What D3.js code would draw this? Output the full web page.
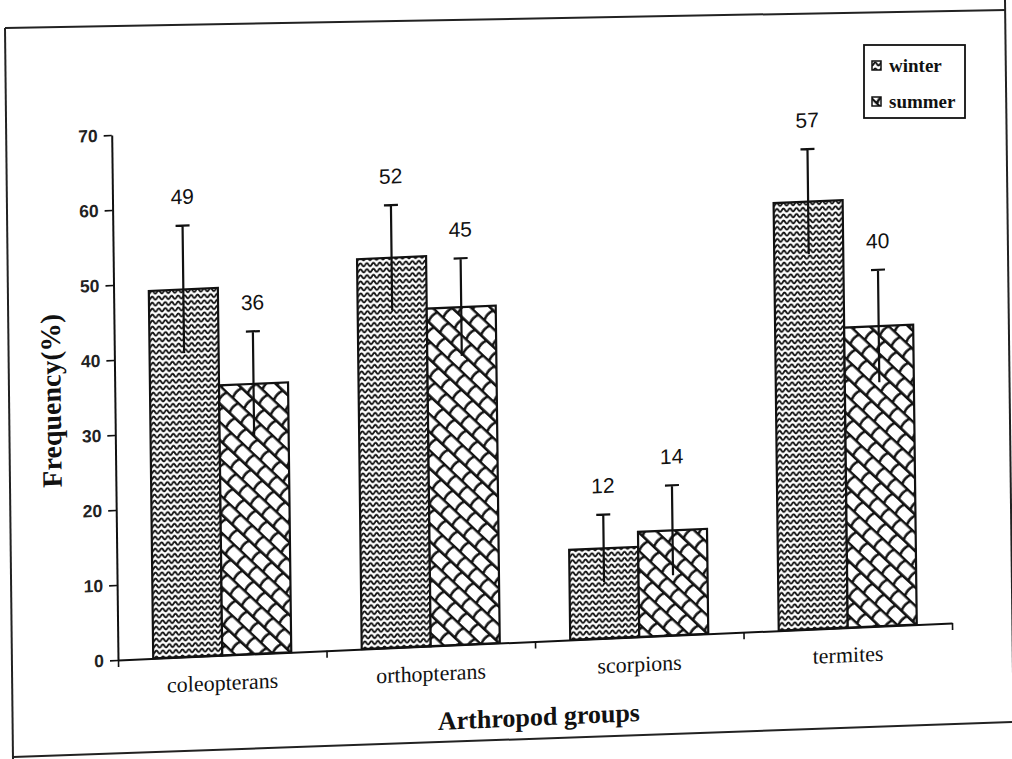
<!DOCTYPE html>
<html>
<head>
<meta charset="utf-8">
<script src="https://cdn.jsdelivr.net/npm/d3@7"></script>
<style>
  html, body { margin: 0; padding: 0; background: #ffffff; }
  svg { display: block; }
</style>
</head>
<body>
<svg id="chart" width="1012" height="759"></svg>
<script>
// ---------- data ----------
const categories = ["coleopterans", "orthopterans", "scorpions", "termites"];
const seriesNames = ["winter", "summer"];
const winterValues = [49, 52, 12, 57];
const summerValues = [36, 45, 14, 40];
const winterErrors = [8.5, 7, 4.5, 7];
const summerErrors = [7, 6.5, 6, 7.5];
const yTicks = [0, 10, 20, 30, 40, 50, 60, 70];
const yTitle = "Frequency(%)";
const xTitle = "Arthropod groups";

// ---------- layout ----------
const svg = d3.select("#chart");
const plotW = 834, plotH = 525;
const ink = "#111";

const rows = categories.map((c, i) => ({
  cat: c,
  vals: [
    { s: "winter", v: winterValues[i], e: winterErrors[i] },
    { s: "summer", v: summerValues[i], e: summerErrors[i] }
  ]
}));

const defs = svg.append("defs");
// winter: wavy lines
const pw = defs.append("pattern").attr("id", "pWinter")
  .attr("patternUnits", "userSpaceOnUse").attr("width", 6.5).attr("height", 6);
pw.append("rect").attr("width", 6.5).attr("height", 6).attr("fill", "#fff");
pw.append("path").attr("d", "M0,4.6 C1.5,4.6 1.75,1.4 3.25,1.4 C4.75,1.4 5,4.6 6.5,4.6")
  .attr("fill", "none").attr("stroke", ink).attr("stroke-width", 1.9);
// summer: shingle
const ps = defs.append("pattern").attr("id", "pSummer")
  .attr("patternUnits", "userSpaceOnUse").attr("width", 32).attr("height", 26)
  .attr("patternTransform", "rotate(45)");
ps.append("rect").attr("width", 32).attr("height", 26).attr("fill", "#fff");
ps.append("path")
  .attr("d", "M0,1 H32 M0,14 H32 " +
    "M0,1 Q-3,7.5 0,14 M16,1 Q13,7.5 16,14 M32,1 Q29,7.5 32,14 " +
    "M8,14 Q5,20.5 8,27 M24,14 Q21,20.5 24,27")
  .attr("fill", "none").attr("stroke", ink).attr("stroke-width", 2.6);

const fills = { winter: "url(#pWinter)", summer: "url(#pSummer)" };

// frame (scanned page border)
const frame = svg.append("g").attr("stroke", "#222").attr("stroke-width", 2).attr("fill", "none");
frame.append("path").attr("d", "M5,28 L1006,10");
frame.append("path").attr("d", "M5,28 L13,759");
frame.append("path").attr("d", "M1005,0 L1014,759");
frame.append("path").attr("d", "M13,757 L1012,722");

// plot group with slight skew to mimic the scan
const g = svg.append("g")
  .attr("transform", "translate(118,660) matrix(1,-0.0444,0.012,1,0,0) translate(0,-525)");

const y = d3.scaleLinear().domain([0, 70]).range([plotH, 0]);
const x0 = d3.scaleBand().domain(categories).range([0, plotW])
  .paddingInner(0.338).paddingOuter(0.169);
const x1 = d3.scaleBand().domain(seriesNames).range([0, x0.bandwidth()]);
const xb = d3.scaleLinear().domain([0, categories.length]).range([0, plotW]);

// bars
const grp = g.selectAll("g.cat").data(rows).join("g")
  .attr("class", "cat")
  .attr("transform", d => `translate(${x0(d.cat)},0)`);

grp.selectAll("rect").data(d => d.vals).join("rect")
  .attr("x", d => x1(d.s))
  .attr("y", d => y(d.v))
  .attr("width", x1.bandwidth())
  .attr("height", d => y(0) - y(d.v))
  .attr("fill", d => fills[d.s])
  .attr("stroke", ink).attr("stroke-width", 2.2);

// error bars
grp.selectAll("path.err").data(d => d.vals).join("path")
  .attr("class", "err")
  .attr("d", d => {
    const cx = x1(d.s) + x1.bandwidth() / 2;
    return `M${cx},${y(d.v - d.e)} V${y(d.v + d.e)} M${cx - 7},${y(d.v + d.e)} H${cx + 7}`;
  })
  .attr("fill", "none").attr("stroke", ink).attr("stroke-width", 2.2);

// value labels
grp.selectAll("text.val").data(d => d.vals).join("text")
  .attr("class", "val")
  .attr("x", d => x1(d.s) + x1.bandwidth() / 2)
  .attr("y", d => y(d.v + d.e) - 29)
  .attr("dy", "0.35em")
  .attr("text-anchor", "middle")
  .attr("font-family", "'Liberation Sans', Arial, sans-serif")
  .attr("font-size", 21)
  .attr("fill", ink)
  .text(d => d.v);

// y axis
const yAxis = g.append("g")
  .call(d3.axisLeft(y).tickValues(yTicks).tickSize(8).tickPadding(6).tickSizeOuter(0));
yAxis.select(".domain").attr("stroke", ink).attr("stroke-width", 2);
yAxis.selectAll(".tick line").attr("stroke", ink).attr("stroke-width", 1.6);
yAxis.selectAll(".tick text")
  .attr("font-family", "'Liberation Sans', Arial, sans-serif")
  .attr("font-weight", "bold")
  .attr("font-size", 17.5).attr("fill", "#222");

// x axis
const xAxis = g.append("g").attr("transform", `translate(0,${plotH})`)
  .call(d3.axisBottom(xb).tickValues(d3.range(categories.length + 1))
    .tickFormat("").tickSize(7).tickSizeOuter(0));
xAxis.select(".domain").attr("stroke", ink).attr("stroke-width", 2);
xAxis.selectAll(".tick line").attr("stroke", ink).attr("stroke-width", 1.6);

// category labels
g.selectAll("text.cat").data(categories).join("text")
  .attr("class", "cat")
  .attr("x", d => x0(d) + x0.bandwidth() / 2)
  .attr("y", plotH + 27)
  .attr("dy", "0.35em")
  .attr("text-anchor", "middle")
  .attr("font-family", "'Liberation Serif', 'Times New Roman', serif")
  .attr("font-size", 22)
  .attr("fill", ink)
  .text(d => d);

// axis titles
g.append("text")
  .attr("x", plotW / 2 + 3)
  .attr("y", plotH + 75)
  .attr("dy", "0.35em")
  .attr("text-anchor", "middle")
  .attr("font-family", "'Liberation Serif', 'Times New Roman', serif")
  .attr("font-weight", "bold")
  .attr("font-size", 26)
  .attr("fill", ink)
  .text(xTitle);

g.append("text")
  .attr("transform", `translate(-64,${plotH - 262}) rotate(-90)`)
  .attr("dy", "0.35em")
  .attr("text-anchor", "middle")
  .attr("font-family", "'Liberation Serif', 'Times New Roman', serif")
  .attr("font-weight", "bold")
  .attr("font-size", 28)
  .attr("fill", ink)
  .text(yTitle);

// legend
const lg = svg.append("g");
lg.append("rect").attr("x", 864).attr("y", 45).attr("width", 101).attr("height", 73)
  .attr("fill", "#fff").attr("stroke", ink).attr("stroke-width", 1.8);
const li = lg.selectAll("g.item").data(seriesNames).join("g")
  .attr("class", "item")
  .attr("transform", (d, i) => `translate(872,${61 + i * 36})`);
li.append("rect").attr("width", 9).attr("height", 9)
  .attr("fill", d => fills[d]).attr("stroke", ink).attr("stroke-width", 1.5);
li.append("text").attr("x", 17).attr("y", 4.5).attr("dy", "0.35em")
  .attr("font-family", "'Liberation Serif', 'Times New Roman', serif")
  .attr("font-weight", "bold")
  .attr("font-size", 19)
  .attr("fill", ink)
  .text(d => d);
</script>
</body>
</html>
